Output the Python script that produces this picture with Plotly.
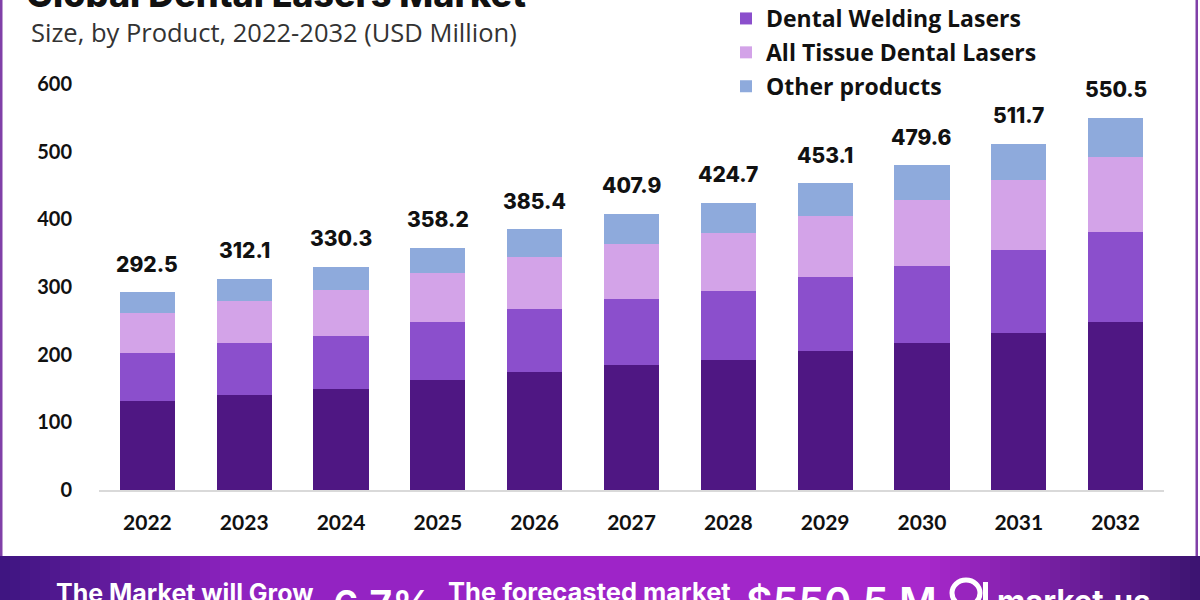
import plotly.graph_objects as go

years = ["2022", "2023", "2024", "2025", "2026", "2027", "2028", "2029", "2030", "2031", "2032"]
soft_tissue = [131.9, 140.3, 149.2, 162.5, 174.7, 184.6, 192.0, 205.3, 216.7, 231.5, 249.0]
dental_welding = [70.1, 76.4, 78.8, 86.1, 93.1, 97.4, 102.0, 109.3, 114.6, 123.5, 132.5]
all_tissue = [60.0, 62.9, 67.4, 71.4, 76.8, 81.4, 86.0, 89.7, 96.7, 103.0, 110.5]
other_products = [30.5, 32.5, 34.9, 38.2, 40.8, 44.5, 44.7, 48.8, 51.6, 53.7, 58.5]
totals = [292.5, 312.1, 330.3, 358.2, 385.4, 407.9, 424.7, 453.1, 479.6, 511.7, 550.5]

series_names = ["Soft Tissue Dental Lasers", "Dental Welding Lasers", "All Tissue Dental Lasers", "Other products"]
series_values = [soft_tissue, dental_welding, all_tissue, other_products]
series_colors = ["#4f1783", "#8b4fcc", "#d3a3e8", "#8eaadc"]

W, H = 1200, 600
ML, MR, MT, MB = 99, 36, 84, 110
PH = H - MT - MB


def py(pixel_y):
    return (H - MB - pixel_y) / PH


def px(pixel_x):
    return (pixel_x - ML) / (W - ML - MR)


fig = go.Figure()
for i, (name, vals, col) in enumerate(zip(series_names, series_values, series_colors)):
    fig.add_trace(go.Bar(
        x=years, y=vals, name=name, marker=dict(color=col, line=dict(width=0)),
        width=0.57, showlegend=(i > 0), legendgroup=name,
        hoverinfo="x+y+name",
    ))

annotations = []
# total labels above each stack (x given as category index)
for i, tot in enumerate(totals):
    annotations.append(dict(
        x=i, y=tot, xref="x", yref="y", text=f"{tot:.1f}", showarrow=False,
        yanchor="middle", yshift=28,
        font=dict(family="Inter", size=21, color="#111111", weight=800),
    ))

# Title & subtitle
annotations.append(dict(
    x=px(24), y=py(-6), xref="paper", yref="paper", xanchor="left", yanchor="middle",
    text="Global Dental Lasers Market", showarrow=False,
    font=dict(family="Inter", size=36, color="#111111", weight=800),
))
annotations.append(dict(
    x=px(29), y=py(32), xref="paper", yref="paper", xanchor="left", yanchor="middle",
    text="Size, by Product, 2022-2032 (USD Million)", showarrow=False,
    font=dict(family="Open Sans", size=25.5, color="#333333"),
))

# Banner texts
banner_texts = [
    (54, 593, "The Market will Grow", 25, 700),
    (331, 604, "6.7%", 40, 600),
    (446, 591, "The forecasted market", 25.5, 700),
    (744, 602, "$550.5 M", 41, 600),
    (995, 600, "market.us", 31, 700),
]
for x0, yc, t, s, w in banner_texts:
    annotations.append(dict(
        x=px(x0), y=py(yc), xref="paper", yref="paper", xanchor="left", yanchor="middle",
        text=t, showarrow=False, font=dict(family="Inter", size=s, color="white", weight=w),
    ))

shapes = []
# gradient banner stripes
stops = [(0.0, (0x3d, 0x15, 0x80)), (0.2, (0x8f, 0x22, 0xc0)), (0.5, (0x9e, 0x24, 0xc8)),
         (0.77, (0xa8, 0x28, 0xcc)), (1.0, (0x3b, 0x14, 0x70))]


def grad(t):
    for (t0, c0), (t1, c1) in zip(stops[:-1], stops[1:]):
        if t0 <= t <= t1:
            f = (t - t0) / (t1 - t0)
            return "rgb(%d,%d,%d)" % tuple(round(a + (b - a) * f) for a, b in zip(c0, c1))
    return "rgb(59,20,112)"


n = 120
for k in range(n):
    xa = k * W / n
    xb = (k + 1) * W / n + 1
    shapes.append(dict(type="rect", xref="paper", yref="paper", x0=px(xa), x1=px(xb),
                       y0=py(556), y1=py(602), fillcolor=grad((k + 0.5) / n),
                       line=dict(width=0), layer="below"))
# side borders
shapes.append(dict(type="rect", xref="paper", yref="paper", x0=px(0), x1=px(2.5),
                   y0=py(556), y1=py(-5), fillcolor="#8040a8", line=dict(width=0)))
shapes.append(dict(type="rect", xref="paper", yref="paper", x0=px(1195.5), x1=px(1198),
                   y0=py(556), y1=py(-5), fillcolor="#8040a8", line=dict(width=0)))
# logo icon
shapes.append(dict(type="circle", xref="paper", yref="paper", x0=px(952), x1=px(980),
                   y0=py(606), y1=py(580), line=dict(color="white", width=5)))
shapes.append(dict(type="rect", xref="paper", yref="paper", x0=px(983), x1=px(988),
                   y0=py(600), y1=py(582), fillcolor="white", line=dict(width=0)))

fig.update_layout(
    width=W, height=H,
    barmode="stack",
    bargap=0.43,
    plot_bgcolor="white", paper_bgcolor="white",
    margin=dict(l=ML, r=MR, t=MT, b=MB, autoexpand=False),
    annotations=annotations,
    shapes=shapes,
    legend=dict(
        x=px(726), y=py(-3), xanchor="left", yanchor="top",
        orientation="v", traceorder="grouped", tracegroupgap=1,
        font=dict(family="Open Sans", size=23, color="#111111", weight=700),
        bgcolor="rgba(0,0,0,0)", itemwidth=30,
    ),
    xaxis=dict(
        type="category", range=[-0.5, 10.5], showgrid=False,
        showline=True, linecolor="#d9d9d9", linewidth=1.5,
        ticks="outside", ticklen=13, tickcolor="rgba(0,0,0,0)",
        tickfont=dict(family="Lato", size=21, color="#111111", weight=700),
    ),
    yaxis=dict(
        range=[0, 600], tickvals=[0, 100, 200, 300, 400, 500, 600],
        showgrid=False, zeroline=False, showline=False,
        ticks="outside", ticklen=22, tickcolor="rgba(0,0,0,0)",
        tickfont=dict(family="Lato", size=20, color="#111111", weight=700),
    ),
    showlegend=True,
)

fig.write_html("out.html")
